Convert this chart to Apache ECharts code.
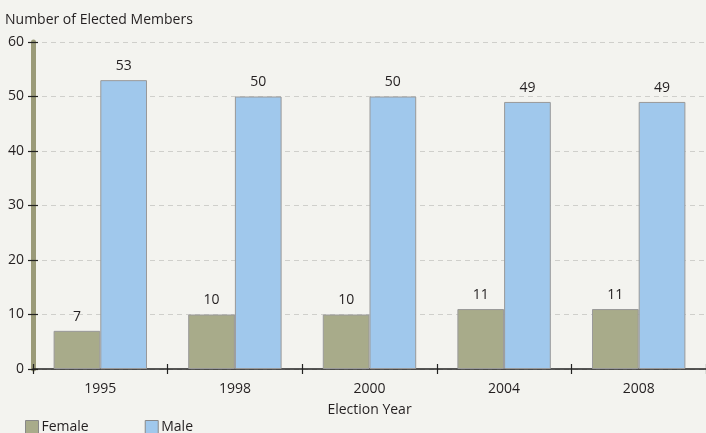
<!DOCTYPE html>
<html><head><meta charset="utf-8">
<script src="https://cdn.jsdelivr.net/npm/echarts@6/dist/echarts.min.js"></script>
<style>html,body{margin:0;padding:0;background:#f3f3ef;}#c{width:706px;height:433px;}</style>
</head><body><div id="c"></div>
<script>
const years = ['1995','1998','2000','2004','2008'];
const female = [7,10,10,11,11];
const male = [53,50,50,49,49];
const yTicks = [0,10,20,30,40,50,60];

const FONT = '"Open Sans", "Noto Sans", sans-serif';
const TXT = '#231f20';
const chart = echarts.init(document.getElementById('c'));
const yBase = {
  type:'value', min:yTicks[0], max:yTicks[yTicks.length-1], interval:yTicks[1]-yTicks[0], position:'left'
};
chart.setOption({
  backgroundColor:'#f3f3ef',
  animation:false,
  textStyle:{fontFamily:FONT},
  title:{text:'Number of Elected Members', left:0, top:8,
    textStyle:{fontSize:14, fontWeight:'normal', color:TXT, fontFamily:FONT}},
  legend:{left:20, bottom:-6, itemWidth:13, itemHeight:13, itemGap:56, icon:'rect',
    textStyle:{fontSize:14, color:TXT, fontFamily:FONT, padding:[0,0,0,-2]},
    data:[{name:'Female', itemStyle:{borderColor:'#888', borderWidth:1}},{name:'Male', itemStyle:{borderColor:'#888', borderWidth:1}}]},
  grid:{left:33, top:42, width:678, height:327},
  xAxis:[{
    type:'category', data:years, name:'Election Year', nameLocation:'middle', nameGap:34,
    nameTextStyle:{fontSize:14, color:TXT, fontFamily:FONT},
    axisLine:{lineStyle:{color:'#222', width:1.5}},
    axisTick:{show:true, length:5, lineStyle:{color:'#222', width:1.2}},
    axisLabel:{fontSize:14, color:TXT, margin:13, fontFamily:FONT}
  },{
    type:'category', data:years, position:'bottom',
    axisLine:{show:false},
    axisTick:{show:true, inside:true, length:5, lineStyle:{color:'#222', width:1.2}},
    axisLabel:{show:false}
  }],
  yAxis:[Object.assign({}, yBase, {
    axisLine:{show:true, lineStyle:{color:'#9a9a78', width:5}},
    axisTick:{show:true, length:5, lineStyle:{color:'#222', width:1.2}},
    axisLabel:{fontSize:14, color:TXT, margin:9, fontFamily:FONT},
    splitLine:{show:true, lineStyle:{color:'#cfcfcb', type:[5,4], width:1}}
  }), Object.assign({}, yBase, {
    axisLine:{show:false},
    axisTick:{show:true, inside:true, length:5, lineStyle:{color:'#222', width:1.2}},
    axisLabel:{show:false}, splitLine:{show:false}
  })],
  series:[{
    name:'Female', type:'bar', data:female, barGap:'0%', barCategoryGap:'30.6%',
    itemStyle:{color:'#a8ab8a', borderColor:'#999', borderWidth:1},
    label:{show:true, position:'top', distance:7, fontSize:14, color:TXT, fontFamily:FONT}
  },{
    name:'Male', type:'bar', data:male,
    itemStyle:{color:'#a0c8ec', borderColor:'#999', borderWidth:1},
    label:{show:true, position:'top', distance:7, fontSize:14, color:TXT, fontFamily:FONT}
  }]
});
</script></body></html>
